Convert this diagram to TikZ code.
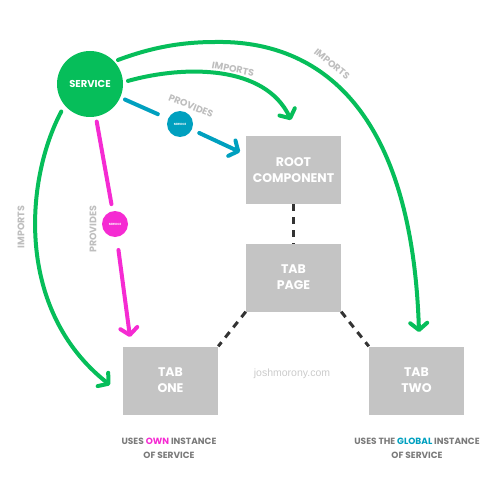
\documentclass[tikz,border=0pt]{standalone}
\usepackage{fontspec}
\setmainfont{Poppins}
\newfontfamily\wmfont{Liberation Sans}
\usetikzlibrary{arrows.meta}
\definecolor{cgreen}{HTML}{06BE5A}
\definecolor{cblue}{HTML}{00A0BF}
\definecolor{cmag}{HTML}{F52BD2}
\definecolor{cbox}{HTML}{C4C4C4}
\definecolor{clabel}{HTML}{BEBEBE}
\definecolor{cnote}{HTML}{7A7A7A}
\definecolor{cdash}{HTML}{333333}
\tikzset{
  boxnode/.style={fill=cbox,minimum width=95pt,minimum height=68pt,inner sep=0pt,align=center,text=white,font=\bfseries\fontsize{12.5}{16}\selectfont},
  bigsvc/.style={circle,fill=cgreen,minimum size=66pt,inner sep=0pt,text=white,font=\bfseries\fontsize{10}{12}\selectfont},
  smallsvc/.style={circle,minimum size=26pt,inner sep=0pt,text=white,font=\bfseries\fontsize{3}{4}\selectfont},
  lbl/.style={text=clabel,font=\bfseries\fontsize{9.5}{11}\selectfont,inner sep=0pt},
  note/.style={text=cnote,align=center,font=\bfseries\fontsize{9}{14}\selectfont,inner sep=0pt},
  tip/.style={-{Straight Barb[length=7pt,width=17pt,line cap=round,line join=round]}},
  garrow/.style={draw=cgreen,line width=4pt,line cap=round,tip},
  barrow/.style={draw=cblue,line width=4pt,line cap=round},
  marrow/.style={draw=cmag,line width=4pt,line cap=round},
  dashline/.style={draw=cdash,line width=3pt,dash pattern=on 7pt off 6pt},
}
\begin{document}
\begin{tikzpicture}[x=1pt,y=-1pt]
\useasboundingbox (0,0) rectangle (500,500);
% nodes
\node[bigsvc] (service) at (90,84) {SERVICE};
\node[smallsvc,fill=cblue] (bc) at (180,124) {SERVICE};
\node[smallsvc,fill=cmag] (mc) at (115,224) {SERVICE};
\node[boxnode] (root) at (293.5,170) {ROOT\\COMPONENT};
\node[boxnode] (tabpage) at (293.5,277.5) {TAB\\PAGE};
\node[boxnode] (tabone) at (170.5,380.5) {TAB\\ONE};
\node[boxnode] (tabtwo) at (416.5,380.5) {TAB\\TWO};
% tips
\coordinate (t1) at (419,332);
\coordinate (t2) at (291,120);
\coordinate (t3) at (110,385);
\coordinate (bluetip) at (240,152);
\coordinate (magtip) at (130,337);
% dashed links
\draw[dashline] (root.south) -- (tabpage.north);
\draw[dashline] (tabpage.south west) -- (tabone.north east);
\draw[dashline] (tabpage.south east) -- (tabtwo.north west);
% green imports
\draw[garrow,shorten <=4pt] (service.43) .. controls (150,48) and (180,42) .. (215,42)
   .. controls (320,40) and (412,110) .. (t1);
\draw[garrow,shorten <=5pt] (service.3) .. controls (185,65) and (265,65) .. (t2);
\draw[garrow,shorten <=7pt] (service.220) .. controls (25,180) and (15,310) .. (t3);
% blue provides
\draw[barrow,shorten <=5pt,shorten >=11pt] (service) -- (bc);
\draw[barrow,tip,shorten <=8pt] (bc) -- (bluetip);
% magenta provides
\draw[marrow,shorten <=5pt,shorten >=7pt] (service) -- (mc);
\draw[marrow,tip,shorten <=13pt] (mc) -- (magtip);
% labels
\node[lbl,rotate=-11] (l1) at (233,69) {IMPORTS};
\node[lbl,rotate=-39] (l2) at (332,64) {IMPORTS};
\node[lbl,rotate=-22] (l3) at (191,106) {PROVIDES};
\node[lbl,rotate=90] (l4) at (21,227) {IMPORTS};
\node[lbl,rotate=90] (l5) at (93,229) {PROVIDES};
% watermark
\node[text=clabel!80,font=\wmfont\fontsize{10.5}{12}\selectfont] (wm) at (292,374) {joshmorony.com};
% notes
\node[note] (n1) at (169,448) {USES \textcolor{cmag}{OWN} INSTANCE\\OF SERVICE};
\node[note] (n2) at (417,448) {USES THE \textcolor{cblue}{GLOBAL} INSTANCE\\OF SERVICE};
\end{tikzpicture}
\end{document}
